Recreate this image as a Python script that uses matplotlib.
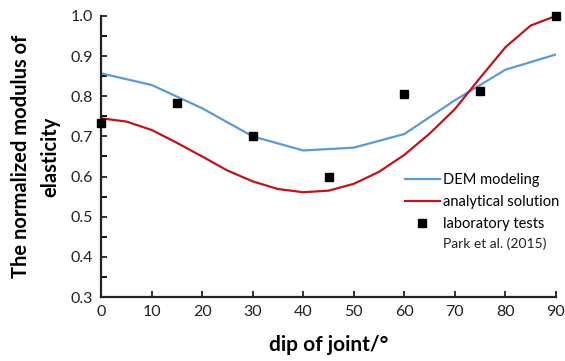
import matplotlib
matplotlib.use("Agg")
import matplotlib.pyplot as plt
from matplotlib.ticker import MultipleLocator

plt.rcParams['font.family'] = ['Lato', 'DejaVu Sans']

# DEM modeling results
dem_dip = [0, 10, 20, 30, 40, 50, 60, 70, 80, 90]
dem_E = [0.857, 0.828, 0.770, 0.700, 0.665, 0.672, 0.706, 0.790, 0.866, 0.904]

# analytical solution
ana_dip = [0, 5, 10, 15, 20, 25, 30, 35, 40, 45, 50, 55, 60, 65, 70, 75, 80, 85, 90]
ana_E = [0.745, 0.737, 0.716, 0.684, 0.650, 0.615, 0.588, 0.569, 0.561, 0.565, 0.582,
         0.612, 0.654, 0.707, 0.768, 0.846, 0.922, 0.976, 1.000]

# laboratory tests, Park et al. (2015)
lab_dip = [0, 15, 30, 45, 60, 75, 90]
lab_E = [0.733, 0.783, 0.700, 0.598, 0.805, 0.814, 1.000]

fig = plt.figure(figsize=(5.65, 3.61), dpi=100)
ax = fig.add_axes([0.179, 0.177, 0.805, 0.779])

ax.plot(dem_dip, dem_E, color='#5B9BD5', lw=1.6, label='DEM modeling')
ax.plot(ana_dip, ana_E, color='#C0141C', lw=1.6, label='analytical solution')
ax.plot(lab_dip, lab_E, 's', color='black', ms=5.8, label='laboratory tests',
        clip_on=False, zorder=5)

ax.set_xlim(0, 90)
ax.set_ylim(0.3, 1.0)
ax.xaxis.set_major_locator(MultipleLocator(10))
ax.yaxis.set_major_locator(MultipleLocator(0.1))
ax.yaxis.set_minor_locator(MultipleLocator(0.05))
ax.yaxis.set_major_formatter(matplotlib.ticker.FormatStrFormatter('%.1f'))
ax.tick_params(direction='in', length=4, width=1.3, labelsize=11.5, colors='#222222',
               pad=6)
ax.tick_params(axis='y', which='minor', direction='in', length=4, width=1.3)
for s in ['top', 'right']:
    ax.spines[s].set_visible(False)
for s in ['left', 'bottom']:
    ax.spines[s].set_linewidth(1.6)
    ax.spines[s].set_color('#222222')

ax.set_xlabel('dip of joint/°', fontsize=15, fontweight='bold', labelpad=11)
ax.set_ylabel('The normalized modulus of\nelasticity', fontsize=14.5,
              fontweight='bold', labelpad=7, linespacing=1.6)

ax.legend(loc='upper left', bbox_to_anchor=(0.655, 0.463), frameon=False,
          fontsize=10.5, handlelength=2.4, handletextpad=0.2, labelspacing=0.55,
          borderaxespad=0)
ax.text(67.6, 0.432, 'Park et al. (2015)', fontsize=10, va='center', ha='left',
        color='#222222')

fig.savefig('out.png', dpi=100)
